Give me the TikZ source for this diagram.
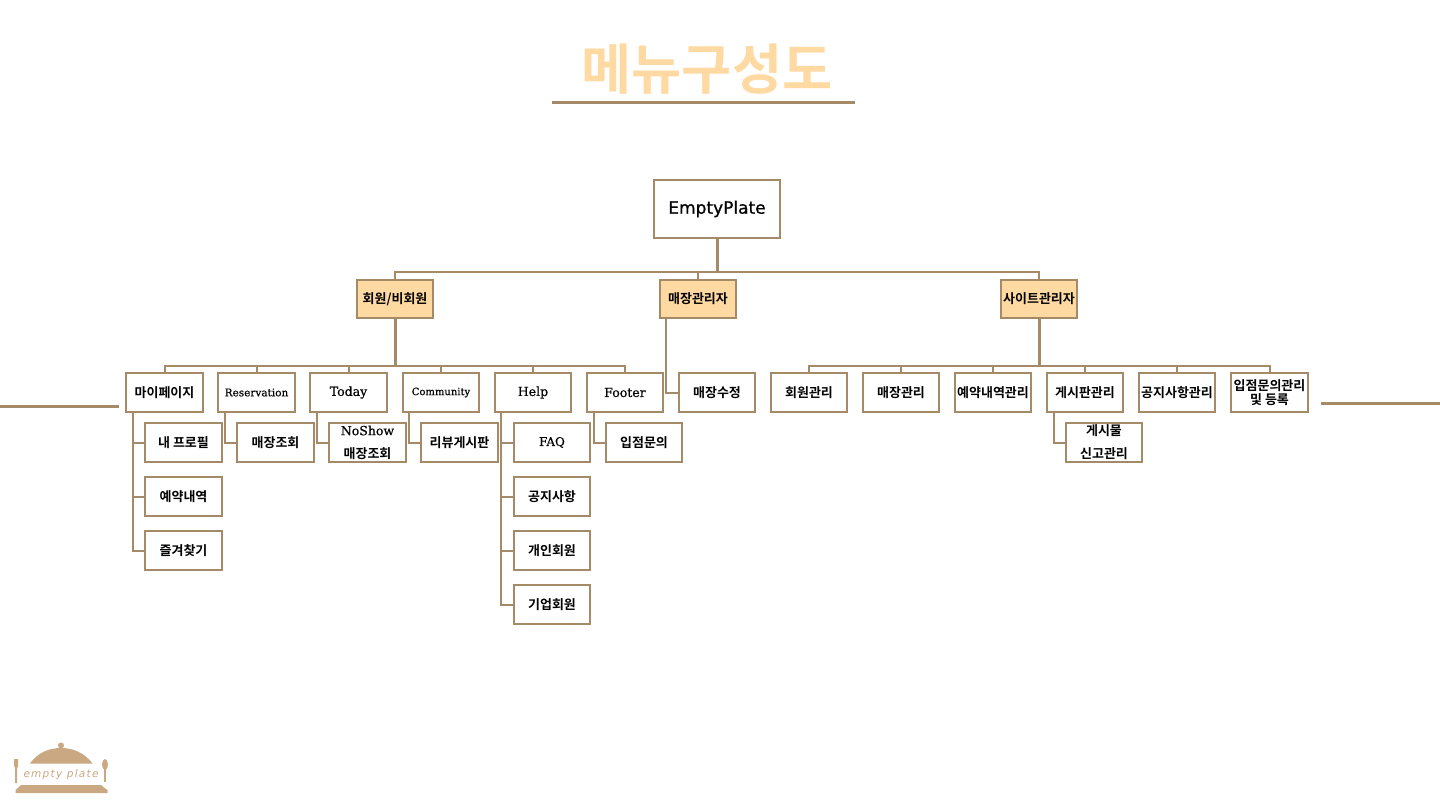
\documentclass[tikz,border=0pt]{standalone}
\usepackage{fontspec}
\setmainfont{Noto Sans CJK KR}[BoldFont={* Bold}]
\newfontfamily\krb{Noto Sans CJK KR Bold}
\newfontfamily\lat[FakeBold=0.5]{DejaVu Serif}
\newfontfamily\latb[FakeBold=0.8]{DejaVu Sans}
\newfontfamily\hand[LetterSpace=12]{DejaVu Sans}
\definecolor{brn}{HTML}{A58A68}
\definecolor{pch}{HTML}{FFD9A2}
\definecolor{logoc}{HTML}{C9A882}
\tikzset{
 box/.style={draw=brn,line width=1.7pt,fill=white,inner sep=0pt,minimum width=76.5pt,minimum height=38.5pt,align=center,font=\krb\fontsize{13}{23}\selectfont},
 lv2/.style={box,fill=pch,minimum height=38pt},
 rootbox/.style={box,minimum width=126pt,minimum height=58pt,font=\latb\fontsize{17}{20}\selectfont},
 conn/.style={draw=brn,line width=2pt},
 thickconn/.style={draw=brn,line width=3pt},
 rulebar/.style={draw=brn,line width=3pt},
 L/.style={font=\lat\fontsize{#1}{14}\selectfont},
}
\begin{document}
\begin{tikzpicture}[x=1pt,y=-1pt]
\useasboundingbox (0,0) rectangle (1440,810);
% title
\node[inner sep=0pt,text=pch,font=\krb\fontsize{54.5}{60}\selectfont] (title) at (707,69) {메뉴구성도};
\coordinate (r1) at (552,102.5); \coordinate (r2) at (855,102.5);
\draw[rulebar] (r1) -- (r2);
\coordinate (l1) at (0,406.5); \coordinate (l2) at (119,406.5);
\draw[rulebar] (l1) -- (l2);
\coordinate (l3) at (1321,403.5); \coordinate (l4) at (1440,403.5);
\draw[rulebar] (l3) -- (l4);
% connector levels
\coordinate (busA) at (0,272);
\coordinate (busB) at (0,366);
% boxes
\node[rootbox] (root) at (717,209) {\raisebox{1.5pt}{EmptyPlate}};
\node[lv2] (a) at (395,299) {회원/비회원};
\node[lv2] (b) at (698,299) {매장관리자};
\node[lv2] (c) at (1039,299) {사이트관리자};
% level 3
\node[box] (a1) at (164.5,392.5) {마이페이지};
\node[box,L=10.5] (a2) at (256.5,392.5) {Reservation};
\node[box,L=12.5] (a3) at (348.5,392.5) {Today};
\node[box,L=10] (a4) at (441,392.5) {Community};
\node[box,L=12.5] (a5) at (533,392.5) {Help};
\node[box,L=12.5] (a6) at (625,392.5) {Footer};
\node[box] (b1) at (717,392.5) {매장수정};
\node[box] (c1) at (809,392.5) {회원관리};
\node[box] (c2) at (901,392.5) {매장관리};
\node[box] (c3) at (993,392.5) {예약내역관리};
\node[box] (c4) at (1085,392.5) {게시판관리};
\node[box] (c5) at (1177,392.5) {공지사항관리};
\node[box,font=\krb\fontsize{13}{15}\selectfont] (c6) at (1269.5,392.5) {입점문의관리\\[-1pt]및 등록};
% level 4
\node[box] (a11) at (183.5,442.5) {내 프로필};
\node[box] (a12) at (183.5,496.5) {예약내역};
\node[box] (a13) at (183.5,550.5) {즐겨찾기};
\node[box] (a21) at (275.5,442.5) {매장조회};
\node[box] (a31) at (367.5,442.5) {{\lat\fontsize{12.5}{23}\selectfont NoShow}\\매장조회};
\node[box] (a41) at (459.5,442.5) {리뷰게시판};
\node[box] (a51) at (552,442.5) {{\lat\fontsize{12}{14}\selectfont FAQ}};
\node[box] (a52) at (552,496.5) {공지사항};
\node[box] (a53) at (552,550.5) {개인회원};
\node[box] (a54) at (552,604.5) {기업회원};
\node[box] (a61) at (644,442.5) {입점문의};
\node[box] (c41) at (1104,442.5) {게시물\\신고관리};
% connectors
\draw[thickconn] (root.south) -- (root.south |- busA);
\draw[conn] (a.north) |- (root.south |- busA) -| (c.north);
\draw[conn] (b.north) -- (b.north |- busA);
\draw[thickconn] (a.south) -- (a.south |- busB);
\draw[thickconn] (c.south) -- (c.south |- busB);
\draw[conn] (a1.north) |- (a6.north |- busB) -- (a6.north);
\foreach \n in {a2,a3,a4,a5} \draw[conn] (\n.north) -- (\n.north |- busB);
\draw[conn] (c1.north) |- (c6.north |- busB) -- (c6.north);
\foreach \n in {c2,c3,c4,c5} \draw[conn] (\n.north) -- (\n.north |- busB);
\draw[conn] ([xshift=7.25pt]b.south west) |- (b1.west);
\foreach \p/\q/\s in {a1/a11/7.75,a1/a12/7.75,a1/a13/7.75,a2/a21/7.75,a3/a31/7.75,a4/a41/7.25,a5/a51/7.25,a5/a52/7.25,a5/a53/7.25,a5/a54/7.25,a6/a61/8.25,c4/c41/8.25}
  \draw[conn] ([xshift=\s pt]\p.south west) |- (\q.west);
% logo
\fill[logoc] (30,763.5) .. controls (38,752) and (50,748) .. (61,748) .. controls (72,748) and (84,752) .. (92.5,763.5) -- cycle;
\fill[logoc] (61,745.5) circle (3pt);
\fill[logoc] (21,785) -- (101,785) .. controls (103,788) and (106,788) .. (107.5,790) -- (107.5,793) -- (15.5,793) -- (15.5,790) .. controls (17,788) and (19,788) .. (21,785) -- cycle;
\fill[logoc] (14.2,759) -- (18.2,759) -- (18.2,766) -- (17.2,768) -- (17.2,783) -- (15.2,783) -- (15.2,768) -- (14.2,766) -- cycle;
\fill[logoc] (105,764.5) ellipse (3pt and 5.5pt);
\fill[logoc] (104,768) rectangle (106,782);
\node[inner sep=0pt,text=logoc,font=\hand\itshape\fontsize{10.5}{12}\selectfont] (logo) at (61,775) {empty plate};
\end{tikzpicture}
\end{document}
